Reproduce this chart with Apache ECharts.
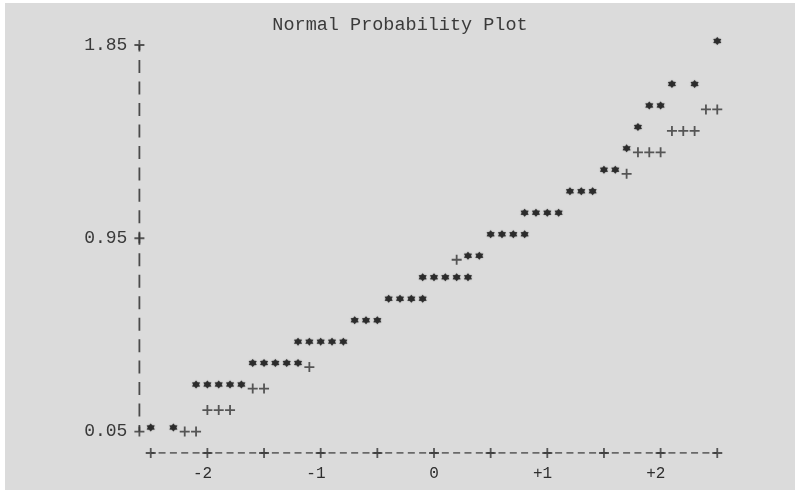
<!DOCTYPE html>
<html>
<head>
<meta charset="utf-8">
<script src="https://cdn.jsdelivr.net/npm/echarts@6/dist/echarts.min.js"></script>
<style>
  html, body { margin: 0; padding: 0; background: #ffffff; }
  #chart { position: absolute; left: 5px; top: 3px; width: 790px; height: 487px; }
</style>
</head>
<body>
<div id="chart"></div>
<script>
// ---- data ----
// '*' = observed data, one array of normal-quantile columns per printed row
const starRows = [0.05, 0.25, 0.35, 0.45, 0.55, 0.65, 0.75, 0.85, 0.95, 1.05, 1.15, 1.25, 1.35, 1.45, 1.55, 1.65, 1.85];
const starCols = [
  [-2.5, -2.3],
  [-2.1, -2.0, -1.9, -1.8, -1.7],
  [-1.6, -1.5, -1.4, -1.3, -1.2],
  [-1.2, -1.1, -1.0, -0.9, -0.8],
  [-0.7, -0.6, -0.5],
  [-0.4, -0.3, -0.2, -0.1],
  [-0.1, 0.0, 0.1, 0.2, 0.3],
  [0.3, 0.4],
  [0.5, 0.6, 0.7, 0.8],
  [0.8, 0.9, 1.0, 1.1],
  [1.2, 1.3, 1.4],
  [1.5, 1.6],
  [1.7],
  [1.8],
  [1.9, 2.0],
  [2.1, 2.3],
  [2.5]
];
// '+' = reference normal line where it is not hidden by data
const plusRows = [0.05, 0.15, 0.25, 0.35, 0.85, 1.25, 1.35, 1.45, 1.55];
const plusCols = [
  [-2.2, -2.1],
  [-2.0, -1.9, -1.8],
  [-1.6, -1.5],
  [-1.1],
  [0.2],
  [1.7],
  [1.8, 1.9, 2.0],
  [2.1, 2.2, 2.3],
  [2.4, 2.5]
];
// axes
const xTickValues = [-2.5, -2.0, -1.5, -1.0, -0.5, 0, 0.5, 1.0, 1.5, 2.0, 2.5];
const xLabelValues = [-2, -1, 0, 1, 2];
const yTickValues = [0.05, 0.95, 1.85];
const xAxisRow = -0.05;
const yAxisColumn = -2.6;
const titleText = 'Normal Probability Plot';

// ---- build ----
const starData = [];
starRows.forEach((r, i) => starCols[i].forEach(c => starData.push([c, r])));
const plusData = [];
plusRows.forEach((r, i) => plusCols[i].forEach(c => plusData.push([c, r])));
const tickData = xTickValues.map(v => [v, xAxisRow]).concat(yTickValues.map(v => [yAxisColumn, v]));

const MONO = '"Liberation Mono", "DejaVu Sans Mono", monospace';
const PLUS = 'path://M4.1,0H5.9V4.1H10V5.9H5.9V10H4.1V5.9H0V4.1H4.1Z';
const STAR = 'path://M5,0L6.6,2.2L9.33,2.5L8.2,5L9.33,7.5L6.6,7.8L5,10L3.4,7.8L0.67,7.5L1.8,5L0.67,2.5L3.4,2.2Z';

const chart = echarts.init(document.getElementById('chart'));
chart.setOption({
  backgroundColor: '#dbdbdb',
  animation: false,
  title: {
    text: titleText,
    left: 'center',
    top: 8,
    textStyle: { fontFamily: MONO, fontSize: 18.5, fontWeight: 'normal', color: '#3a3a3a' }
  },
  grid: { left: 134.4, right: 66.4, top: 42, bottom: 37 },
  xAxis: {
    type: 'value',
    min: yAxisColumn,
    max: -yAxisColumn,
    axisLine: { show: false },
    axisTick: { show: false },
    splitLine: { show: false },
    axisLabel: {
      customValues: xLabelValues,
      margin: 13,
      fontFamily: MONO,
      fontSize: 16,
      color: '#2e2e2e',
      formatter: v => v === 0 ? '0' : (v > 0 ? '+' : '-') + Math.abs(v) + ' '
    }
  },
  yAxis: {
    type: 'value',
    min: xAxisRow,
    max: yTickValues[yTickValues.length - 1],
    axisLine: { show: false },
    axisTick: { show: false },
    splitLine: { show: false },
    axisLabel: {
      customValues: yTickValues,
      margin: 12,
      fontFamily: MONO,
      fontSize: 18,
      color: '#3a3a3a',
      formatter: v => v.toFixed(2)
    }
  },
  series: [
    {
      type: 'line', silent: true, symbol: 'none', z: 1,
      data: [[xTickValues[0], xAxisRow], [xTickValues[xTickValues.length - 1], xAxisRow]],
      lineStyle: { color: '#444', width: 1.6, type: [7, 4.33], dashOffset: 3.5 }
    },
    {
      type: 'line', silent: true, symbol: 'none', z: 1,
      data: [[yAxisColumn, yTickValues[0]], [yAxisColumn, yTickValues[yTickValues.length - 1]]],
      lineStyle: { color: '#4a4a4a', width: 1.8, type: [13, 8.47], dashOffset: 6.5 }
    },
    {
      type: 'scatter', silent: true, z: 3,
      symbol: PLUS, symbolSize: 10,
      itemStyle: { color: '#333' },
      data: tickData
    },
    {
      name: 'reference', type: 'scatter', z: 3,
      symbol: PLUS, symbolSize: 10,
      itemStyle: { color: '#333' },
      data: plusData
    },
    {
      name: 'data', type: 'scatter', z: 4,
      symbol: STAR, symbolSize: 8, symbolOffset: [0, -4],
      itemStyle: { color: '#151515', shadowColor: 'rgba(0,0,0,0.5)', shadowBlur: 1.5 },
      data: starData
    }
  ]
});
</script>
</body>
</html>
